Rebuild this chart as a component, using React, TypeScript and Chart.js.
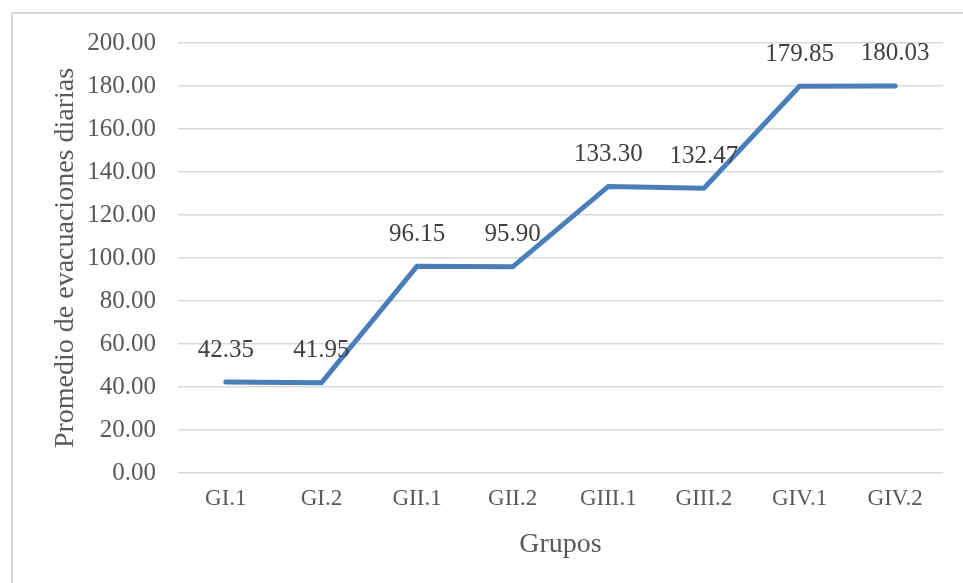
import React, { useEffect, useRef } from "react";
import { Chart, registerables } from "chart.js";

Chart.register(...registerables);

const categories = ["GI.1", "GI.2", "GII.1", "GII.2", "GIII.1", "GIII.2", "GIV.1", "GIV.2"];
const values = [42.35, 41.95, 96.15, 95.9, 133.3, 132.47, 179.85, 180.03];
const yTitle = "Promedio de evacuaciones diarias";
const xTitle = "Grupos";

const FONT = "'Liberation Serif', serif";

const labelPlugin = {
  id: "valueLabels",
  afterDatasetsDraw(chart: any) {
    const ctx = chart.ctx;
    const meta = chart.getDatasetMeta(0);
    ctx.save();
    ctx.font = `25px ${FONT}`;
    ctx.fillStyle = "#404040";
    ctx.textAlign = "center";
    ctx.textBaseline = "middle";
    meta.data.forEach((pt: any, i: number) => {
      ctx.fillText(values[i].toFixed(2), pt.x, pt.y - 32);
    });
    ctx.restore();
  },
};

export default function App() {
  const ref = useRef<HTMLCanvasElement>(null);
  useEffect(() => {
    document.body.style.overflow = "hidden";
    const chart = new Chart(ref.current!, {
      type: "line",
      data: {
        labels: categories,
        datasets: [
          {
            data: values,
            borderColor: "#4a7ebb",
            borderWidth: 5,
            borderCapStyle: "round",
            borderJoinStyle: "miter",
            pointRadius: 0,
            tension: 0,
            fill: false,
          },
        ],
      },
      options: {
        animation: false,
        responsive: false,
        maintainAspectRatio: false,
        layout: { padding: { left: 36, right: 20, top: 20, bottom: 22 } },
        plugins: { legend: { display: false }, tooltip: { enabled: false } },
        scales: {
          x: {
            offset: true,
            grid: { display: false, drawTicks: false },
            border: { display: false },
            ticks: { color: "#595959", font: { family: FONT, size: 23 }, padding: 12, maxRotation: 0 },
            title: { display: true, text: xTitle, color: "#595959", font: { family: FONT, size: 28 }, padding: 0 },
            afterFit: (s: any) => { s.height = 88; },
          },
          y: {
            min: 0,
            max: 200,
            ticks: {
              stepSize: 20,
              color: "#595959",
              font: { family: FONT, size: 25 },
              padding: 22,
              callback: (v: any) => Number(v).toFixed(2),
            },
            grid: { color: "#d9d9d9", lineWidth: 1.5, drawTicks: false },
            border: { display: false },
            title: { display: true, text: yTitle, color: "#595959", font: { family: FONT, size: 28 }, padding: 0 },
            afterFit: (s: any) => { s.width = 129; },
          },
        },
      },
      plugins: [labelPlugin],
    });
    return () => chart.destroy();
  }, []);
  return (
    <div
      style={{
        position: "fixed",
        left: 11,
        top: 12,
        width: 952,
        height: 571,
        borderLeft: "2px solid #d9d9d9",
        borderTop: "2px solid #d9d9d9",
        background: "#fff",
        overflow: "hidden",
      }}
    >
      <canvas
        ref={ref}
        width={950}
        height={577}
        style={{ display: "block", position: "absolute", left: 0, top: -8 }}
      />
    </div>
  );
}
